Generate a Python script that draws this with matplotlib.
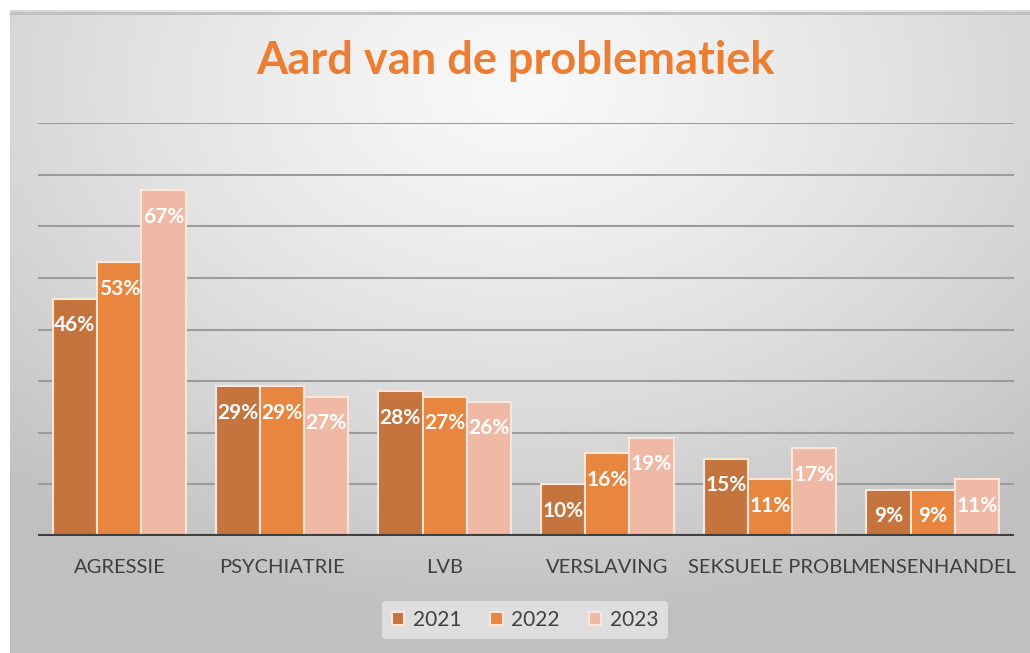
import numpy as np
import matplotlib
matplotlib.use("Agg")
import matplotlib.pyplot as plt

categories = ["AGRESSIE", "PSYCHIATRIE", "LVB", "VERSLAVING", "SEKSUELE PROBL", "MENSENHANDEL"]
series_names = ["2021", "2022", "2023"]
v2021 = [46, 29, 28, 10, 15, 9]
v2022 = [53, 29, 27, 16, 11, 9]
v2023 = [67, 27, 26, 19, 17, 11]
colors = ["#C5743D", "#E8853F", "#F0B9A6"]
title = "Aard van de problematiek"

W, H = 1030, 653
fig = plt.figure(figsize=(W / 100, H / 100), dpi=100)
fig.patch.set_facecolor("white")

# background gradient (chart area)
bg = fig.add_axes([10 / W, 0, 1 - 10 / W, 1 - 10 / H])
bg.set_axis_off()
yy, xx = np.mgrid[0:1:300j, 0:1:500j]
d = np.sqrt(((xx - 0.5) * 1.0) ** 2 + ((yy - 0.12) * 0.9) ** 2)
val = 0.975 - 0.22 * np.clip(d / 0.75, 0, 1) ** 1.3
img = np.dstack([val, val, val])
bg.imshow(img, aspect="auto", extent=[0, 1, 1, 0], interpolation="bilinear")
bg.set_xlim(0, 1)
bg.set_ylim(1, 0)
bg.plot([0, 1], [0.004, 0.004], color="#c0c0c0", lw=2)

font = "Lato"
fig.text(0.5, 1 - 61 / H, title, ha="center", va="center", fontsize=32.5,
         fontweight="bold", color="#ED7D31", family=font)

ax = fig.add_axes([38 / W, (H - 536) / H, (1014 - 38) / W, (536 - 123) / H])
ax.set_facecolor("none")
ax.set_xlim(-0.5, len(categories) - 0.5)
ax.set_ylim(0, 80)
for s in ax.spines.values():
    s.set_visible(False)
ax.set_yticks(np.arange(10, 81, 10))
ax.yaxis.grid(True, color="#9c9c9c", lw=1.5)
ax.set_axisbelow(True)
ax.tick_params(axis="y", left=False, labelleft=False)
ax.axhline(0, color="#404040", lw=3, zorder=5)

x = np.arange(len(categories))
bw = 0.272
allv = [v2021, v2022, v2023]
for i, (vals, c, name) in enumerate(zip(allv, colors, series_names)):
    ax.bar(x + (i - 1) * bw, vals, bw, color=c, edgecolor="#FCE6D9",
           linewidth=1.5, label=name, zorder=3)
    for xi, v in zip(x + (i - 1) * bw, vals):
        ax.annotate(f"{v}%", (xi, v), xytext=(0, -19), textcoords="offset points",
                    ha="center", va="center", color="white", fontsize=15,
                    fontweight="bold", family=font, zorder=6)

ax.set_xticks(x)
ax.set_xticklabels(categories, fontsize=14.5, color="#404040", family=font)
ax.tick_params(axis="x", bottom=False, pad=13)

leg = fig.legend(loc="center", bbox_to_anchor=(525 / W, 1 - 620 / H), ncol=3,
                 frameon=True, prop={"family": font, "size": 15},
                 handlelength=0.6, handleheight=0.6, handletextpad=0.4,
                 columnspacing=1.4, borderpad=0.45)
leg.get_frame().set_facecolor("#e6e6e6")
leg.get_frame().set_edgecolor("none")
leg.get_frame().set_alpha(0.8)
for t in leg.get_texts():
    t.set_color("#404040")

fig.savefig("out.png", dpi=100)
